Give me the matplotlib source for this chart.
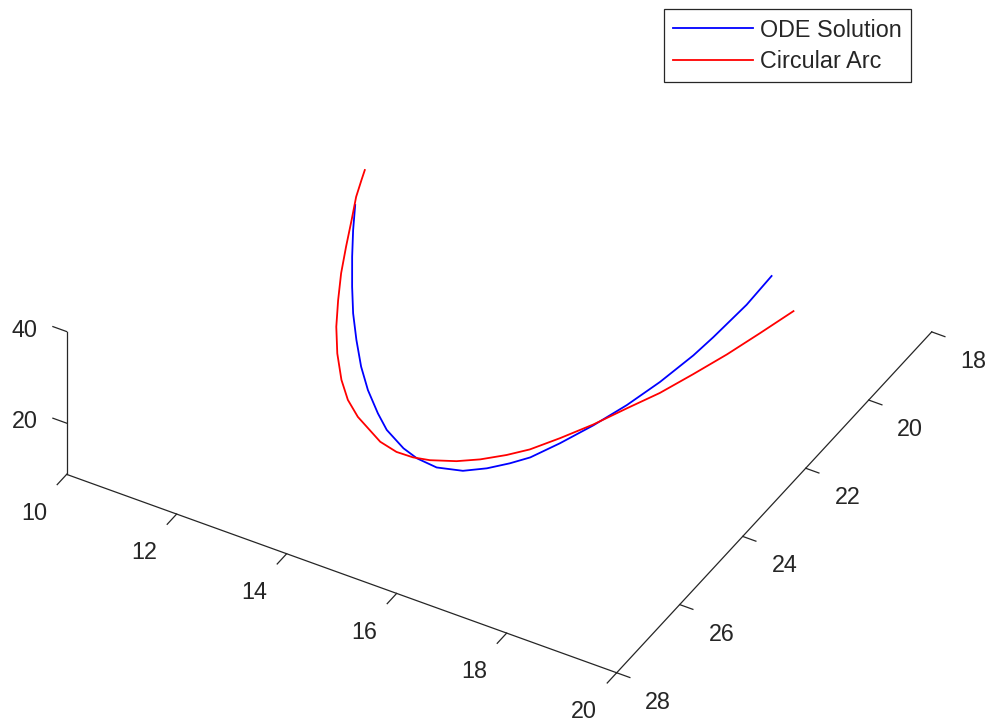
import matplotlib
matplotlib.use('Agg')
import matplotlib.pyplot as plt
import numpy as np

plt.rcParams['font.family'] = ['Liberation Sans', 'DejaVu Sans']

# ODE solution (blue)
ode_x = [12.13, 12.27, 12.43, 12.63, 12.82, 13.04, 13.28, 13.53, 13.82, 14.05, 14.40, 14.65, 14.98,
         15.36, 15.67, 15.95, 16.19, 16.50, 16.84, 17.16, 17.46, 17.74, 17.89, 18.13, 18.28]
ode_y = [22.56, 22.87, 23.18, 23.53, 23.83, 24.11, 24.38, 24.60, 24.79, 24.91, 24.99, 25.00, 24.95,
         24.78, 24.56, 24.32, 24.09, 23.69, 23.22, 22.72, 22.19, 21.62, 21.25, 20.61, 20.08]
ode_z = [36.37, 33.79, 31.02, 27.91, 25.16, 22.39, 19.62, 17.21, 14.80, 13.07, 11.17, 10.14, 9.20,
         8.85, 9.10, 9.62, 10.24, 11.69, 13.59, 15.66, 18.07, 20.84, 22.70, 26.07, 29.05]

# circular arc (red)
arc_x = [12.03, 12.05, 12.09, 12.18, 12.28, 12.39, 12.53, 12.68, 12.87, 13.10, 13.32, 13.57, 14.04, 14.33,
         14.59, 14.84, 15.21, 15.52, 15.85, 16.13, 16.47, 16.83, 17.18, 17.53, 17.86, 18.19, 18.50, 18.81]
arc_y = [22.08, 22.22, 22.46, 22.76, 23.11, 23.46, 23.80, 24.12, 24.42, 24.69, 24.87, 24.99, 25.10, 25.09,
         25.02, 24.92, 24.72, 24.51, 24.25, 24.00, 23.63, 23.21, 22.76, 22.32, 21.84, 21.34, 20.83, 20.31]
arc_z = [40.00, 38.96, 37.23, 34.82, 32.06, 29.30, 26.53, 23.77, 21.01, 18.25, 16.17, 14.44, 11.86, 10.82,
         10.24, 9.96, 9.86, 10.03, 10.48, 11.05, 12.24, 13.64, 15.32, 16.93, 18.88, 20.92, 23.11, 25.39]

xlim = (10, 20)
ylim = (18, 28)
zlim = (8.82, 40)
xticks = [10, 12, 14, 16, 18, 20]
yticks = [18, 20, 22, 24, 26, 28]
zticks = [20, 40]

axcol = '#262626'
fs = 16.8

fig = plt.figure(figsize=(9.89, 7.21), dpi=100)
ax = fig.add_axes([0.02528, -0.11775, 0.93367, 1.28072], projection='3d',
                  proj_type='ortho', computed_zorder=False)
ax.view_init(elev=-38.66, azim=-120)
ax.set_box_aspect((1.008, 1.0, 0.2903), zoom=0.96)
ax.set_xlim(*xlim)
ax.set_ylim(*ylim)
ax.set_zlim(*zlim)
ax.set_axis_off()

h_ode, = ax.plot(ode_x, ode_y, ode_z, color='#0000ff', lw=1.3)
h_arc, = ax.plot(arc_x, arc_y, arc_z, color='#ff0000', lw=1.3)

M = ax.get_proj()


def label(x, y, z, s):
    # project the 3d anchor, then place a plain 2d text there
    v = M @ np.array([x, y, z, 1.0])
    ax.text2D(v[0] / v[3], v[1] / v[3], s, transform=ax.transData,
              ha='center', va='center', fontsize=fs, color=axcol)


# MATLAB-style axis lines (box off)
z0 = zlim[0]
ax.plot([xlim[0], xlim[1]], [ylim[1], ylim[1]], [z0, z0], color=axcol, lw=0.9)
ax.plot([xlim[1], xlim[1]], [ylim[0], ylim[1]], [z0, z0], color=axcol, lw=0.9)
ax.plot([xlim[0], xlim[0]], [ylim[1], ylim[1]], [z0, zlim[1]], color=axcol, lw=0.9)

for t in xticks:
    ax.plot([t, t], [ylim[1], ylim[1] + 0.3], [z0, z0], color=axcol, lw=0.9)
    label(t + 0.04, ylim[1] + 1.11, z0, str(t))
for t in yticks:
    ax.plot([xlim[1], xlim[1] + 0.24], [t, t], [z0, z0], color=axcol, lw=0.9)
    label(xlim[1] + 0.94, t + 0.32, z0, str(t))
for t in zticks:
    ax.plot([xlim[0], xlim[0] - 0.25], [ylim[1], ylim[1]], [t, t], color=axcol, lw=0.9)
    label(xlim[0] - 0.59, ylim[1] + 0.30, t, str(t))

leg = ax.legend([h_ode, h_arc], ['ODE Solution', 'Circular Arc'], loc='upper left',
                bbox_to_anchor=(664 / 989, 1 - 9.3 / 721), bbox_transform=fig.transFigure,
                borderaxespad=0, fancybox=False, framealpha=1, edgecolor=axcol,
                fontsize=fs, handlelength=3.4, handletextpad=0.3, labelspacing=0.36,
                borderpad=0.4)
leg.get_frame().set_linewidth(0.9)
for txt in leg.get_texts():
    txt.set_color(axcol)

fig.savefig('out.png', dpi=100)
